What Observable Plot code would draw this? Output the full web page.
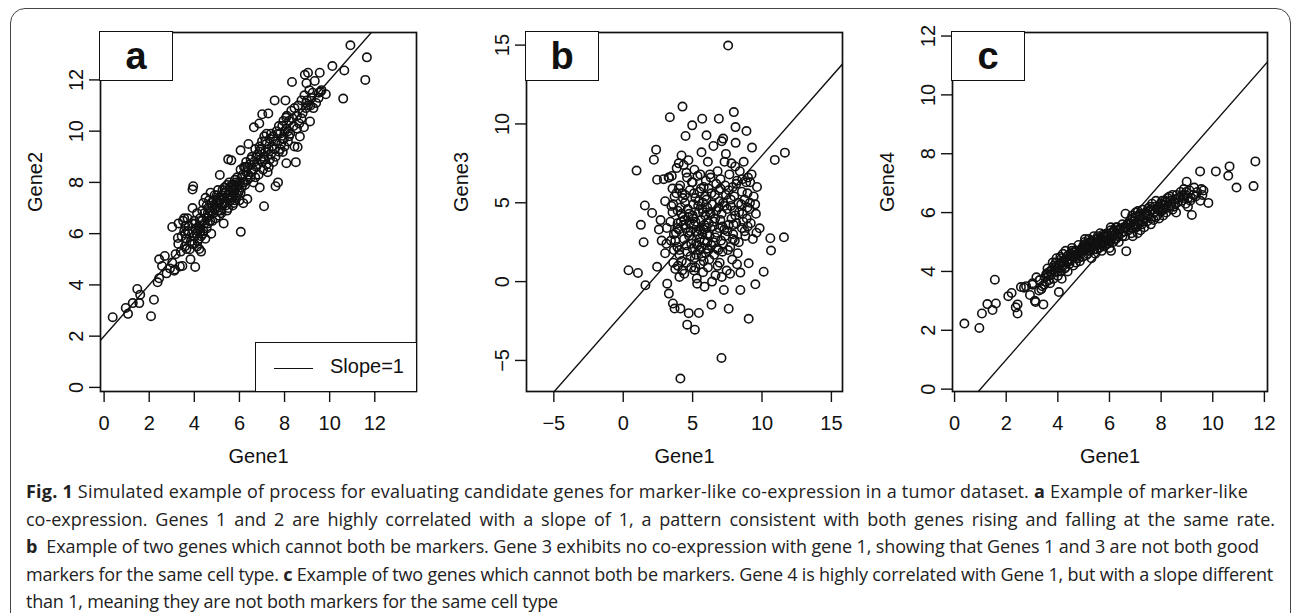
<!DOCTYPE html>
<html><head><meta charset="utf-8">
<script src="https://cdn.jsdelivr.net/npm/d3@7"></script>
<script src="https://cdn.jsdelivr.net/npm/@observablehq/plot@0.6"></script>
<style>
html,body{margin:0;padding:0;background:#fff;}
body{width:1293px;height:613px;overflow:hidden;position:relative;font-family:"Liberation Sans",Arial,sans-serif;color:#111;}
#border{position:absolute;left:10px;top:8px;width:1281px;height:640px;border:1.5px solid #444;border-radius:15px;box-sizing:border-box;}
.panel{position:absolute;top:0;}
.tag{position:absolute;box-sizing:border-box;border:1.6px solid #111;background:#fff;font-weight:bold;font-size:38px;display:flex;align-items:center;justify-content:center;line-height:1;}
.legend{position:absolute;box-sizing:border-box;border:1.6px solid #111;background:#fff;font-size:20px;}
.legend .ln{position:absolute;height:0;border-top:1.4px solid #111;}
.legend .lt{position:absolute;white-space:nowrap;}
#caption{position:absolute;left:26px;top:478px;width:1249px;font-family:"Open Sans",sans-serif;font-size:18px;line-height:27.5px;color:#222;}
#caption div{white-space:nowrap;}
#caption .j{text-align:justify;text-align-last:justify;}
</style>
</head><body>
<div id="border"></div>
<div id="root"></div>
<div id="caption"></div>
<script>
// ---- data ----
const gene1 = [
0.38,0.96,1.06,1.27,1.47,1.56,1.60,2.08,2.21,2.37,
2.44,2.44,2.57,2.69,2.77,2.92,3.02,3.02,3.11,3.14,
3.17,3.27,3.29,3.36,3.44,3.47,3.58,3.70,3.80,3.83,
3.50,3.60,3.65,3.70,3.75,3.85,3.90,3.92,3.95,3.92,
4.00,4.04,4.05,4.10,4.12,4.12,4.15,4.20,4.22,4.25,
4.27,4.30,4.35,4.38,4.40,4.45,4.49,4.50,4.55,4.60,
4.61,4.65,4.70,4.72,4.75,4.80,4.85,4.90,4.95,4.97,
5.00,5.05,5.10,5.13,5.15,5.16,5.20,5.25,5.30,5.33,
5.35,5.40,5.45,5.45,5.50,5.50,5.55,5.60,5.64,5.65,
5.69,5.70,5.75,5.80,5.80,5.85,5.86,5.90,5.95,6.00,
6.00,6.05,6.06,6.10,6.15,6.17,6.20,6.25,6.30,6.35,
6.36,6.40,6.45,6.50,6.55,6.60,6.62,6.64,6.65,6.70,
6.75,6.80,6.85,6.88,6.89,6.90,6.95,7.00,7.01,7.05,
7.08,7.09,7.10,7.15,7.20,7.20,7.25,7.28,7.30,7.35,
7.40,7.45,7.50,7.56,7.60,7.60,7.65,7.71,7.75,7.80,
7.85,7.90,7.92,7.97,8.00,8.04,8.07,8.08,8.09,8.15,
8.20,8.25,8.30,8.33,8.40,8.44,8.44,8.50,8.55,8.58,
8.60,8.65,8.68,8.75,8.80,8.86,8.88,8.90,8.95,8.97,
8.99,9.04,9.04,9.10,9.13,9.19,9.25,9.28,9.34,9.40,
9.51,9.52,9.56,9.60,9.64,9.83,10.12,10.60,10.65,10.92,
11.58,11.65,4.30,4.40,4.55,4.70,4.85,5.00,5.10,5.20,
5.30,5.40,5.50,5.60,5.70,5.80,5.90,6.00,6.10,6.20,
6.30,6.40,6.50,6.70,6.80,6.90,7.00,7.10,7.20,7.30,
7.40,7.50,7.60,7.70,7.80,7.90,8.00,8.10,8.20,3.30,
3.40,3.55,3.65,4.00,4.20,4.60,4.80,5.05,5.25,5.55,
5.75,6.05,6.25,3.55,3.60,3.75,3.90,4.05,4.15,4.25,
4.35,4.45,4.55,4.65,4.75,4.90,5.00,5.10,5.20,5.35,
5.45,5.55,5.65,5.75,5.85,5.95,6.05,6.15,6.35,6.55,
6.75,6.95,7.15,7.35,7.55,7.75,7.95,8.15,8.35,8.55,
8.75,8.95,9.15,4.00];
const gene2 = [
2.74,3.10,2.87,3.29,3.84,3.29,3.62,2.78,3.42,4.10,
4.26,5.00,4.74,5.13,4.45,4.64,4.87,6.26,4.55,4.60,
5.20,5.83,5.60,4.72,5.90,4.74,5.50,6.10,5.39,5.00,
6.50,6.30,5.80,6.60,6.00,5.70,6.40,7.72,7.85,7.00,
5.90,4.70,6.20,6.00,5.50,6.80,5.70,6.30,5.40,6.60,
6.10,5.30,6.90,6.00,7.20,6.40,5.80,7.40,6.20,6.80,
7.00,7.30,6.50,7.60,6.00,7.10,6.80,7.50,6.60,7.20,
7.00,7.70,6.70,8.29,7.30,6.90,7.50,7.10,6.40,7.80,
7.20,7.60,6.90,7.40,8.90,7.00,7.70,7.30,8.86,7.50,
7.90,7.10,7.60,8.10,7.30,7.80,7.40,8.20,7.60,8.00,
7.30,9.25,6.07,7.80,8.30,7.19,8.60,7.90,8.40,7.35,
8.10,9.50,8.70,8.20,9.00,8.50,8.00,10.15,8.80,9.30,
8.60,9.10,8.30,10.30,9.40,7.80,8.90,9.60,10.66,8.50,
9.00,7.07,9.80,9.20,8.70,9.50,8.40,10.69,9.30,8.90,
9.90,9.40,8.80,11.20,7.85,9.60,10.00,8.00,9.20,9.90,
9.50,10.20,9.19,9.70,10.00,11.20,10.53,8.75,10.10,9.60,
10.40,9.90,10.80,11.92,10.20,9.40,10.90,8.79,10.60,9.38,
11.00,10.30,9.79,11.20,10.70,10.15,11.40,12.20,10.90,11.87,
11.20,12.28,11.00,11.60,10.38,11.30,11.50,10.90,11.96,11.10,
11.30,11.50,12.28,11.54,11.60,11.44,12.54,11.27,12.37,13.35,
12.00,12.88,5.90,6.10,6.60,6.90,7.30,7.50,7.20,6.80,
7.40,7.10,7.50,7.80,7.40,7.70,7.50,7.70,8.20,8.00,
8.80,8.30,8.90,8.20,8.70,9.20,8.80,8.90,9.90,8.60,
9.10,9.80,9.00,9.90,9.30,9.70,9.40,10.60,9.80,6.40,
5.30,6.10,5.40,6.50,5.80,6.40,6.50,6.90,7.70,8.00,
7.90,8.50,8.60,6.60,6.00,6.30,5.60,6.40,6.10,6.20,
6.50,6.80,7.10,6.70,7.20,7.00,7.30,7.40,7.20,7.60,
7.90,7.40,7.90,7.20,8.00,7.90,7.60,8.00,8.60,8.40,
9.00,9.30,9.60,9.70,9.30,10.20,10.40,10.00,10.50,10.10,
10.50,11.10,11.00,5.60];
const gene3 = [
0.72,7.04,0.55,3.60,2.50,4.83,-0.23,4.35,7.73,8.37,
0.94,6.46,3.30,3.90,2.60,6.50,1.80,5.10,2.40,3.40,
-0.13,6.60,-0.76,10.43,2.60,4.80,-1.39,-1.71,3.10,5.60,
6.70,1.20,3.00,5.40,0.80,7.20,2.20,4.50,1.00,3.70,
5.90,2.00,0.30,6.10,-1.71,-6.15,3.80,8.00,1.30,5.60,
11.10,4.10,7.40,2.70,0.50,5.00,9.24,3.40,6.90,1.90,
-2.73,4.60,7.70,-2.00,2.90,5.80,3.20,0.90,6.30,9.91,
2.10,4.90,3.60,7.10,1.50,-3.05,5.30,2.40,0.20,-0.13,
6.70,3.00,-1.99,4.40,2.70,5.70,1.10,3.90,8.20,2.20,
10.33,4.60,0.60,3.30,6.00,2.60,-0.32,4.20,1.80,9.28,
5.20,3.00,2.50,0.90,5.90,3.70,1.40,4.40,6.60,2.30,
-1.47,4.90,3.50,8.60,1.70,5.50,4.00,2.80,0.40,6.20,
3.10,7.00,2.00,4.70,10.33,5.80,1.20,3.90,6.50,2.60,
-4.84,4.30,8.90,1.90,9.07,5.00,-0.53,3.30,7.60,2.90,
5.50,0.70,4.60,14.97,-1.72,3.60,6.80,2.20,5.20,4.00,
1.40,6.00,3.00,10.75,5.40,2.60,7.30,4.20,9.80,3.70,
6.40,1.80,5.00,2.50,7.00,-0.53,0.57,4.90,3.40,6.50,
4.30,3.80,7.60,5.20,2.90,6.30,9.55,4.00,5.60,3.50,
6.60,1.16,-2.36,4.60,5.00,3.70,6.80,8.50,2.70,5.40,
4.90,-0.17,4.30,3.10,6.00,3.38,0.63,2.75,1.97,7.72,
2.81,8.18,5.30,3.90,2.30,4.10,1.60,6.30,5.60,0.90,
3.20,4.80,2.00,5.90,3.00,1.30,5.40,3.40,7.60,2.90,
4.30,0.00,2.50,4.50,1.00,3.40,5.90,0.30,2.40,4.80,
8.10,3.20,5.80,0.50,7.50,2.70,4.50,8.80,1.10,6.60,
3.80,4.40,2.00,7.50,4.30,6.60,3.70,4.00,1.70,6.80,
5.00,2.10,6.80,5.90,4.90,2.60,3.40,1.70,4.70,0.70,
3.60,5.50,1.20,3.10,4.30,2.40,4.20,0.70,3.80,2.30,
5.10,3.30,1.60,4.40,3.60,6.40,4.70,2.00,5.60,3.80,
2.10,5.10,3.50,6.10,2.00,4.80,3.60,6.20,4.40,5.70,
3.20,4.70,6.30,3.30];
const gene4 = [
2.23,2.08,2.57,2.89,2.69,3.72,2.91,3.16,3.27,2.78,
2.57,2.88,3.47,3.45,3.50,3.20,3.55,3.60,3.00,2.96,
3.80,3.35,3.70,3.40,2.88,3.55,3.90,3.60,4.30,3.75,
3.80,4.10,3.70,4.00,3.90,4.20,4.00,4.30,4.45,4.10,
3.85,3.30,4.20,4.50,4.00,4.30,3.75,4.60,4.20,4.40,
4.10,4.70,4.35,4.00,4.55,4.25,4.60,4.40,4.80,4.20,
4.50,4.65,4.30,4.70,4.50,4.90,4.35,4.60,4.80,4.50,
4.70,5.00,4.55,4.90,4.80,4.60,5.10,4.70,4.45,5.00,
4.85,5.20,4.60,4.90,5.10,4.75,5.00,4.80,5.30,4.95,
5.15,4.70,5.00,5.20,4.85,5.05,4.90,5.30,4.95,5.10,
4.80,5.50,4.70,5.20,5.00,5.40,5.25,5.10,5.50,5.20,
5.00,5.40,5.30,5.60,5.35,5.20,5.96,5.50,4.69,5.60,
5.40,5.75,5.30,5.90,5.50,5.20,5.70,5.85,6.00,5.50,
5.60,5.30,6.05,5.75,5.40,5.90,5.60,6.10,5.80,5.50,
6.00,5.70,5.90,6.20,5.60,6.10,6.30,5.75,6.00,6.40,
5.90,6.20,5.80,6.30,6.05,6.40,6.25,5.90,6.15,6.40,
6.00,6.50,6.20,6.55,6.30,6.10,6.60,6.20,6.45,6.00,
6.60,6.35,6.50,6.70,6.40,6.60,6.80,6.50,6.30,6.70,
7.05,6.50,6.20,6.75,6.40,5.92,6.60,6.85,6.55,6.70,
7.40,6.40,6.80,6.60,6.75,6.33,7.40,7.25,7.57,6.85,
6.90,7.74,4.15,4.40,4.50,4.55,4.70,4.90,4.75,4.90,
4.80,4.75,5.00,5.05,4.90,5.00,5.15,5.00,5.30,5.10,
5.30,5.45,5.20,5.60,5.50,5.80,5.50,5.60,5.95,5.70,
5.90,6.15,5.80,6.10,5.85,6.20,6.30,6.10,6.35,3.70,
3.50,3.65,3.85,4.10,4.35,4.65,4.45,5.10,4.95,5.20,
5.25,5.40,5.50,3.90,3.95,4.05,4.15,4.25,4.45,4.30,
4.50,4.35,4.70,4.55,4.60,4.75,4.85,4.95,4.80,5.05,
5.00,4.90,5.10,4.95,5.25,5.10,5.05,5.35,5.40,5.50,
5.65,5.60,5.85,5.95,6.05,6.20,6.10,6.25,6.40,6.30,
6.55,6.60,6.50,4.00];

const panelTags = ["a", "b", "c"];
const xLabel = "Gene1";
const yLabels = ["Gene2", "Gene3", "Gene4"];
const lineSlopes = [1, 1, 1];
const lineIntercepts = [2, -2, -1];
const domainsA = [-0.16, 13.85];
const domainsB = [-6.97, 15.8];
const domainsC = [-0.08, 12.12];
const ticksA = [0, 2, 4, 6, 8, 10, 12];
const ticksB = [-5, 0, 5, 10, 15];
const ticksC = [0, 2, 4, 6, 8, 10, 12];
const legendLabel = "Slope=1";
const captionLines = [
  '<b>Fig. 1</b> Simulated example of process for evaluating candidate genes for marker-like co-expression in a tumor dataset. <b>a</b> Example of marker-like',
  'co-expression. Genes 1 and 2 are highly correlated with a slope of 1, a pattern consistent with both genes rising and falling at the same rate.',
  '<b>b</b> &nbsp;Example of two genes which cannot both be markers. Gene 3 exhibits no co-expression with gene 1, showing that Genes 1 and 3 are not both good',
  'markers for the same cell type. <b>c</b> Example of two genes which cannot both be markers. Gene 4 is highly correlated with Gene 1, but with a slope different',
  'than 1, meaning they are not both markers for the same cell type'
];

// ---- layout ----
const W = 430, H = 470, mL = 100, mR = 14, mT = 32, mB = 79;
const panelLefts = [0, 426, 852];
const captionRight = [1248, null, 1259, 1273, 558]; // right edge of each caption line (null = justified)
const root = document.getElementById("root");

function makePanel(k, yVals, domain, ticks) {
  const pts = gene1.map((x, i) => ({x, y: yVals[i]}));
  const ab = domain.map(x => ({x, y: lineSlopes[k] * x + lineIntercepts[k]}));
  const chart = Plot.plot({
    width: W, height: H,
    marginLeft: mL, marginRight: (k === 2 ? 15 : mR), marginTop: mT, marginBottom: mB,
    style: {fontFamily: '"Liberation Sans", Arial, sans-serif', fontSize: "20px", color: "#111", background: "transparent", overflow: "visible"},
    x: {domain},
    y: {domain},
    marks: [
      Plot.axisX({ticks, tickSize: 11, tickPadding: 13, label: null, strokeWidth: 1.4, fontSize: 20}),
      Plot.axisY({ticks, tickSize: 11, tickPadding: 7, tickRotate: -90, label: null, strokeWidth: 1.4, fontSize: 20}),
      Plot.dot(pts, {x: "x", y: "y", r: 4.2, stroke: "#111", strokeWidth: 1.6, fill: "none"}),
      Plot.line(ab, {x: "x", y: "y", stroke: "#111", strokeWidth: 1.4, clip: true}),
      Plot.frame({stroke: "#111", strokeWidth: 1.7}),
      Plot.text([xLabel], {text: d => d, frameAnchor: "bottom", dy: 71, lineAnchor: "bottom", fontSize: 20}),
      Plot.text([yLabels[k]], {text: d => d, frameAnchor: "left", dx: -65, rotate: -90, fontSize: 20})
    ]
  });
  const wrap = document.createElement("div");
  wrap.className = "panel";
  wrap.style.left = panelLefts[k] + "px";
  wrap.appendChild(chart);
  root.appendChild(wrap);

  const tag = document.createElement("div");
  tag.className = "tag";
  tag.textContent = panelTags[k];
  tag.style.left = (panelLefts[k] + mL - 0.8) + "px";
  tag.style.top = (mT - 0.8) + "px";
  tag.style.width = "74px";
  tag.style.height = "50px";
  root.appendChild(tag);
}

makePanel(0, gene2, domainsA, ticksA);
makePanel(1, gene3, domainsB, ticksB);
makePanel(2, gene4, domainsC, ticksC);

// legend in panel a
const lg = document.createElement("div");
lg.className = "legend";
lg.style.left = "255px"; lg.style.top = "341.5px"; lg.style.width = "161.5px"; lg.style.height = "50.5px";
lg.innerHTML = '<div class="ln" style="left:18px;top:25px;width:39px"></div><div class="lt" style="left:74px;top:12px">' + legendLabel + '</div>';
root.appendChild(lg);

// caption
const cap = document.getElementById("caption");
captionLines.forEach((html, i) => {
  const d = document.createElement("div");
  if (captionRight[i] === null) d.className = "j";
  const s = document.createElement("span");
  s.innerHTML = html;
  d.appendChild(s);
  cap.appendChild(d);
  if (captionRight[i] !== null) {
    const w = s.getBoundingClientRect().width;
    const target = captionRight[i] - 26;
    const n = s.textContent.length;
    s.style.letterSpacing = ((target - w) / n).toFixed(3) + "px";
  }
});
</script>
</body></html>
